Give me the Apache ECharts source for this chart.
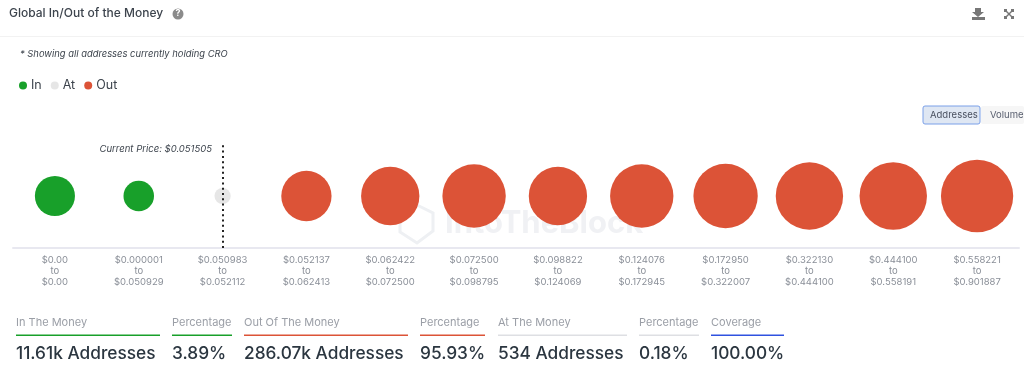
<!DOCTYPE html>
<html>
<head>
<meta charset="utf-8">
<style>
  html, body { margin: 0; padding: 0; background: #fff; }
  #chart { width: 1024px; height: 384px; }
</style>
<script src="https://cdn.jsdelivr.net/npm/echarts@6/dist/echarts.min.js"></script>
</head>
<body>
<div id="chart"></div>
<script>
// price ranges on the x axis
var rangeFrom = ["$0.00", "$0.000001", "$0.050983", "$0.052137", "$0.062422", "$0.072500", "$0.098822", "$0.124076", "$0.172950", "$0.322130", "$0.444100", "$0.558221"];
var rangeTo = ["$0.00", "$0.050929", "$0.052112", "$0.062413", "$0.072500", "$0.098795", "$0.124069", "$0.172945", "$0.322007", "$0.444100", "$0.558191", "$0.901887"];

// addresses per range
var inValues = [8050, 3560, null, null, null, null, null, null, null, null, null, null];
var atValues = [null, null, 534, null, null, null, null, null, null, null, null, null];
var outValues = [null, null, null, 15900, 24800, 31800, 24800, 31800, 33300, 38200, 38300, 47170];

var currentPriceIndex = 2;

var statLabels = ["In The Money", "Percentage", "Out Of The Money", "Percentage", "At The Money", "Percentage", "Coverage"];
var statValues = ["11.61k Addresses", "3.89%", "286.07k Addresses", "95.93%", "534 Addresses", "0.18%", "100.00%"];

var GREEN = "#18a02a";
var GRAY = "#e3e3e3";
var RED = "#dc5337";
var FONT = "Inter";

var statLeft = [16, 172, 244, 420, 498, 639, 711];
var statWidth = [144, 60, 164, 65, 129, 60, 73];
var statColor = [GREEN, GREEN, RED, RED, "#dedfe3", "#dedfe3", "#2f52e0"];

var categories = rangeFrom.map(function(from, i) {
  return from + "\nto\n" + rangeTo[i];
});

function toPoints(values) {
  var points = [];
  values.forEach(function(v, i) {
    if (v != null) points.push([i, 0, v]);
  });
  return points;
}

function bubbleSeries(name, values, color) {
  return {
    name: name,
    type: "scatter",
    data: toPoints(values),
    // bubble diameter grows with the cube root of the address count
    symbolSize: function(d) {
      return 2 * Math.cbrt(d[2]);
    },
    itemStyle: { color: color, opacity: 1 }
  };
}

var graphics = [
  // header
  { type: "text", left: 9, top: 7, style: { text: "Global In/Out of the Money", font: "500 12px " + FONT, fill: "#3d444d" } },
  { type: "circle", shape: { cx: 178, cy: 14, r: 5.5 }, style: { fill: "#8b8b8b" } },
  { type: "text", left: 175.5, top: 9, style: { text: "?", font: "bold 9px " + FONT, fill: "#fff" } },
  { type: "rect", shape: { x: 0, y: 36, width: 1024, height: 1 }, style: { fill: "#f2f2f2" } },
  // download icon
  { type: "polygon", shape: { points: [[975, 8], [981, 8], [981, 12], [984, 12], [978, 17], [972, 12], [975, 12]] }, style: { fill: "#777" } },
  { type: "rect", shape: { x: 972, y: 17, width: 13, height: 3 }, style: { fill: "#777" } },
  // fullscreen icon
  { type: "polyline", shape: { points: [[1005, 10], [1013, 18]] }, style: { stroke: "#777", lineWidth: 1.5, fill: null } },
  { type: "polyline", shape: { points: [[1013, 10], [1005, 18]] }, style: { stroke: "#777", lineWidth: 1.5, fill: null } },
  { type: "rect", shape: { x: 1004, y: 9, width: 3, height: 3 }, style: { fill: "#777" } },
  { type: "rect", shape: { x: 1011, y: 9, width: 3, height: 3 }, style: { fill: "#777" } },
  { type: "rect", shape: { x: 1004, y: 16, width: 3, height: 3 }, style: { fill: "#777" } },
  { type: "rect", shape: { x: 1011, y: 16, width: 3, height: 3 }, style: { fill: "#777" } },
  // note
  { type: "text", left: 20, top: 50, style: { text: "* Showing all addresses currently holding CRO", font: "italic 9.4px " + FONT, fill: "#3d444d" } },
  // toggle buttons
  { type: "rect", shape: { x: 923, y: 106, width: 57, height: 18, r: 2 }, style: { fill: "#dfe7f3", stroke: "#7ba0e8", lineWidth: 1 } },
  { type: "text", left: 930, top: 110, style: { text: "Addresses", font: "9.5px " + FONT, fill: "#4a5160" } },
  { type: "rect", shape: { x: 981, y: 106, width: 43, height: 18, r: 2 }, style: { fill: "#f6f6f6" } },
  { type: "text", left: 990, top: 110, style: { text: "Volume", font: "9.5px " + FONT, fill: "#5a6070" } },
  // current price annotation
  { type: "text", right: 812, top: 144, style: { text: "Current Price: $0.051505", font: "italic 9.5px " + FONT, fill: "#3d444d" } },
  // watermark
  { type: "polygon", z: -1, shape: { points: [[417, 205], [433, 213], [433, 231], [417, 243], [400, 232], [400, 214]] }, style: { fill: null, stroke: "#eef0f3", lineWidth: 3 } },
  { type: "text", z: -1, left: 445, top: 208, style: { text: "IntoTheBlock", font: "bold 31px " + FONT, fill: "#f0f1f4" } }
];

statLabels.forEach(function(label, i) {
  graphics.push({ type: "text", left: statLeft[i], top: 317, style: { text: label, font: "11px " + FONT, fill: "#9a9ea6" } });
  graphics.push({ type: "rect", shape: { x: statLeft[i], y: 334.5, width: statWidth[i], height: 1.5 }, style: { fill: statColor[i] } });
  graphics.push({ type: "text", left: statLeft[i], top: 345, style: { text: statValues[i], font: "500 17.3px " + FONT, fill: "#2b3640" } });
});

var atSeries = bubbleSeries("At", atValues, GRAY);
atSeries.itemStyle.opacity = 0.9;
atSeries.markLine = {
  silent: true,
  animation: false,
  symbol: "none",
  label: { show: false },
  lineStyle: { color: "#222", width: 2, type: [2, 3.3] },
  data: [{ xAxis: currentPriceIndex }]
};

var option = {
  animation: false,
  textStyle: { fontFamily: FONT },
  legend: {
    left: 14,
    top: 74,
    icon: "circle",
    itemWidth: 8,
    itemHeight: 8,
    itemGap: 9,
    textStyle: { color: "#3d444d", fontSize: 12.5, fontFamily: FONT, padding: [0, 0, 0, -1] },
    data: ["In", "At", "Out"]
  },
  grid: { left: 13, right: 5, top: 144, bottom: 136 },
  xAxis: {
    type: "category",
    data: categories,
    axisTick: { show: false },
    axisLine: { onZero: false, lineStyle: { color: "#e8e8f0", width: 2 } },
    axisLabel: { interval: 0, color: "#8a8f98", fontSize: 9.5, lineHeight: 11.3, margin: 6, fontFamily: FONT }
  },
  yAxis: { type: "value", min: -1, max: 1, show: false },
  graphic: graphics,
  series: [
    bubbleSeries("In", inValues, GREEN),
    atSeries,
    bubbleSeries("Out", outValues, RED)
  ]
};

var chart = echarts.init(document.getElementById("chart"));
chart.setOption(option);
</script>
</body>
</html>
